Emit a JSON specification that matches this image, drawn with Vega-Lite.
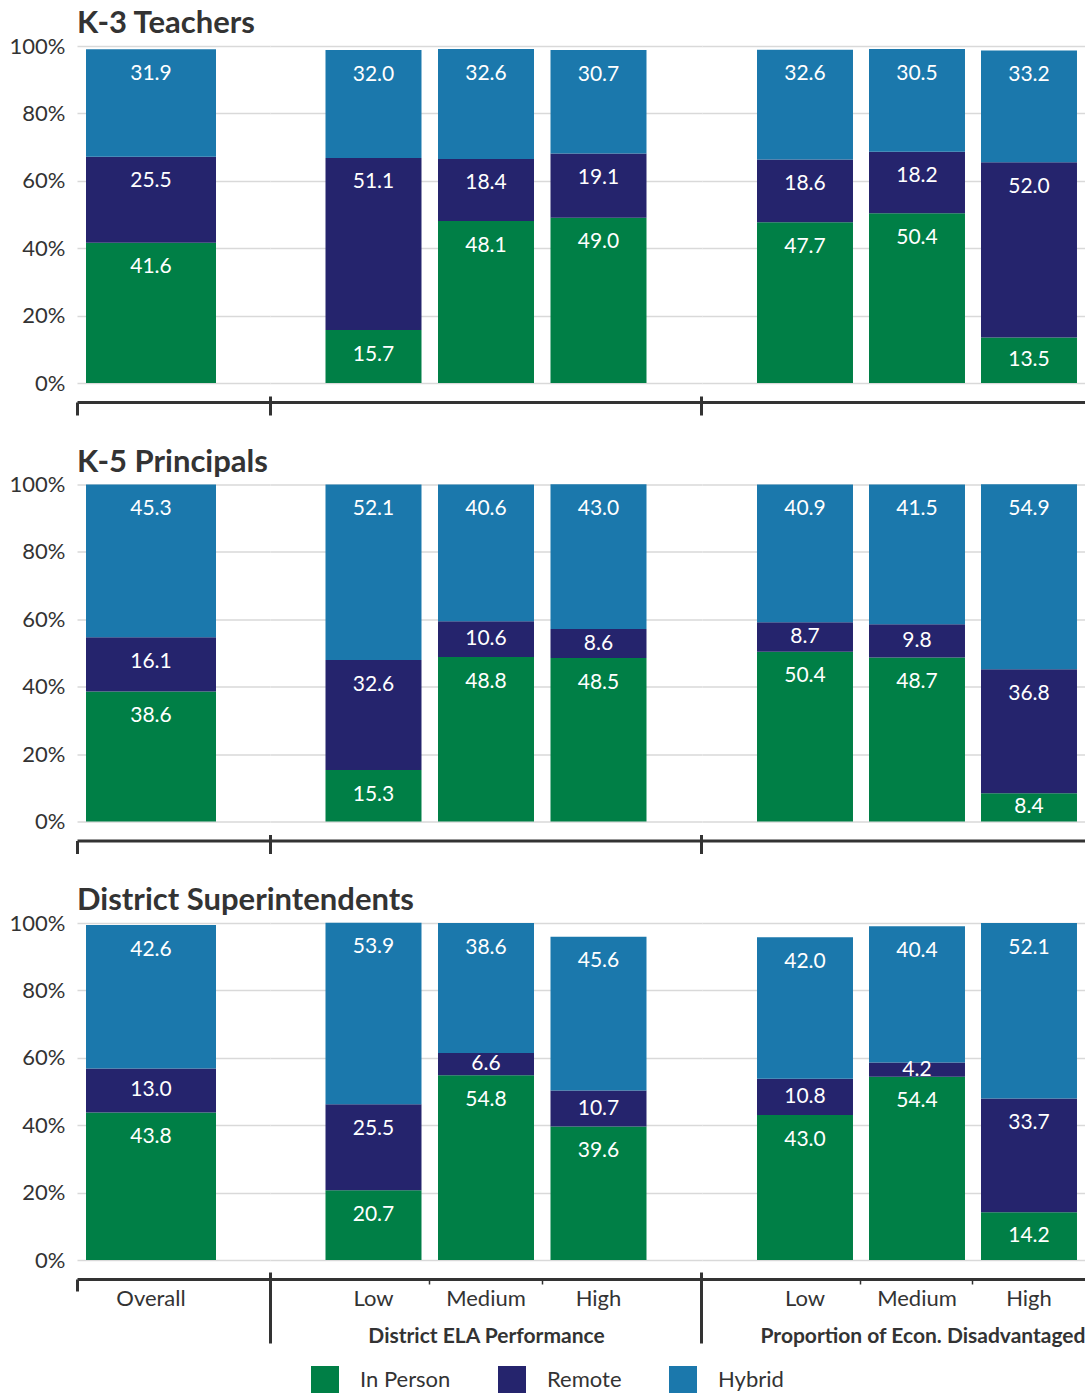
{
  "$schema": "https://vega.github.io/schema/vega-lite/v6.json",
  "padding": {"left": 9, "top": 8, "right": 0, "bottom": 0},
  "datasets": {
    "survey": [
      {"role": "K-3 Teachers", "group": "Overall", "cat": "Overall", "mode": "In Person", "pct": 41.6},
      {"role": "K-3 Teachers", "group": "Overall", "cat": "Overall", "mode": "Remote", "pct": 25.5},
      {"role": "K-3 Teachers", "group": "Overall", "cat": "Overall", "mode": "Hybrid", "pct": 31.9},
      {"role": "K-3 Teachers", "group": "ELA", "cat": "Low", "mode": "In Person", "pct": 15.7},
      {"role": "K-3 Teachers", "group": "ELA", "cat": "Low", "mode": "Remote", "pct": 51.1},
      {"role": "K-3 Teachers", "group": "ELA", "cat": "Low", "mode": "Hybrid", "pct": 32.0},
      {"role": "K-3 Teachers", "group": "ELA", "cat": "Medium", "mode": "In Person", "pct": 48.1},
      {"role": "K-3 Teachers", "group": "ELA", "cat": "Medium", "mode": "Remote", "pct": 18.4},
      {"role": "K-3 Teachers", "group": "ELA", "cat": "Medium", "mode": "Hybrid", "pct": 32.6},
      {"role": "K-3 Teachers", "group": "ELA", "cat": "High", "mode": "In Person", "pct": 49.0},
      {"role": "K-3 Teachers", "group": "ELA", "cat": "High", "mode": "Remote", "pct": 19.1},
      {"role": "K-3 Teachers", "group": "ELA", "cat": "High", "mode": "Hybrid", "pct": 30.7},
      {"role": "K-3 Teachers", "group": "Econ", "cat": "Low", "mode": "In Person", "pct": 47.7},
      {"role": "K-3 Teachers", "group": "Econ", "cat": "Low", "mode": "Remote", "pct": 18.6},
      {"role": "K-3 Teachers", "group": "Econ", "cat": "Low", "mode": "Hybrid", "pct": 32.6},
      {"role": "K-3 Teachers", "group": "Econ", "cat": "Medium", "mode": "In Person", "pct": 50.4},
      {"role": "K-3 Teachers", "group": "Econ", "cat": "Medium", "mode": "Remote", "pct": 18.2},
      {"role": "K-3 Teachers", "group": "Econ", "cat": "Medium", "mode": "Hybrid", "pct": 30.5},
      {"role": "K-3 Teachers", "group": "Econ", "cat": "High", "mode": "In Person", "pct": 13.5},
      {"role": "K-3 Teachers", "group": "Econ", "cat": "High", "mode": "Remote", "pct": 52.0},
      {"role": "K-3 Teachers", "group": "Econ", "cat": "High", "mode": "Hybrid", "pct": 33.2},

      {"role": "K-5 Principals", "group": "Overall", "cat": "Overall", "mode": "In Person", "pct": 38.6},
      {"role": "K-5 Principals", "group": "Overall", "cat": "Overall", "mode": "Remote", "pct": 16.1},
      {"role": "K-5 Principals", "group": "Overall", "cat": "Overall", "mode": "Hybrid", "pct": 45.3},
      {"role": "K-5 Principals", "group": "ELA", "cat": "Low", "mode": "In Person", "pct": 15.3},
      {"role": "K-5 Principals", "group": "ELA", "cat": "Low", "mode": "Remote", "pct": 32.6},
      {"role": "K-5 Principals", "group": "ELA", "cat": "Low", "mode": "Hybrid", "pct": 52.1},
      {"role": "K-5 Principals", "group": "ELA", "cat": "Medium", "mode": "In Person", "pct": 48.8},
      {"role": "K-5 Principals", "group": "ELA", "cat": "Medium", "mode": "Remote", "pct": 10.6},
      {"role": "K-5 Principals", "group": "ELA", "cat": "Medium", "mode": "Hybrid", "pct": 40.6},
      {"role": "K-5 Principals", "group": "ELA", "cat": "High", "mode": "In Person", "pct": 48.5},
      {"role": "K-5 Principals", "group": "ELA", "cat": "High", "mode": "Remote", "pct": 8.6},
      {"role": "K-5 Principals", "group": "ELA", "cat": "High", "mode": "Hybrid", "pct": 43.0},
      {"role": "K-5 Principals", "group": "Econ", "cat": "Low", "mode": "In Person", "pct": 50.4},
      {"role": "K-5 Principals", "group": "Econ", "cat": "Low", "mode": "Remote", "pct": 8.7},
      {"role": "K-5 Principals", "group": "Econ", "cat": "Low", "mode": "Hybrid", "pct": 40.9},
      {"role": "K-5 Principals", "group": "Econ", "cat": "Medium", "mode": "In Person", "pct": 48.7},
      {"role": "K-5 Principals", "group": "Econ", "cat": "Medium", "mode": "Remote", "pct": 9.8},
      {"role": "K-5 Principals", "group": "Econ", "cat": "Medium", "mode": "Hybrid", "pct": 41.5},
      {"role": "K-5 Principals", "group": "Econ", "cat": "High", "mode": "In Person", "pct": 8.4},
      {"role": "K-5 Principals", "group": "Econ", "cat": "High", "mode": "Remote", "pct": 36.8},
      {"role": "K-5 Principals", "group": "Econ", "cat": "High", "mode": "Hybrid", "pct": 54.9},

      {"role": "District Superintendents", "group": "Overall", "cat": "Overall", "mode": "In Person", "pct": 43.8},
      {"role": "District Superintendents", "group": "Overall", "cat": "Overall", "mode": "Remote", "pct": 13.0},
      {"role": "District Superintendents", "group": "Overall", "cat": "Overall", "mode": "Hybrid", "pct": 42.6},
      {"role": "District Superintendents", "group": "ELA", "cat": "Low", "mode": "In Person", "pct": 20.7},
      {"role": "District Superintendents", "group": "ELA", "cat": "Low", "mode": "Remote", "pct": 25.5},
      {"role": "District Superintendents", "group": "ELA", "cat": "Low", "mode": "Hybrid", "pct": 53.9},
      {"role": "District Superintendents", "group": "ELA", "cat": "Medium", "mode": "In Person", "pct": 54.8},
      {"role": "District Superintendents", "group": "ELA", "cat": "Medium", "mode": "Remote", "pct": 6.6},
      {"role": "District Superintendents", "group": "ELA", "cat": "Medium", "mode": "Hybrid", "pct": 38.6},
      {"role": "District Superintendents", "group": "ELA", "cat": "High", "mode": "In Person", "pct": 39.6},
      {"role": "District Superintendents", "group": "ELA", "cat": "High", "mode": "Remote", "pct": 10.7},
      {"role": "District Superintendents", "group": "ELA", "cat": "High", "mode": "Hybrid", "pct": 45.6},
      {"role": "District Superintendents", "group": "Econ", "cat": "Low", "mode": "In Person", "pct": 43.0},
      {"role": "District Superintendents", "group": "Econ", "cat": "Low", "mode": "Remote", "pct": 10.8},
      {"role": "District Superintendents", "group": "Econ", "cat": "Low", "mode": "Hybrid", "pct": 42.0},
      {"role": "District Superintendents", "group": "Econ", "cat": "Medium", "mode": "In Person", "pct": 54.4},
      {"role": "District Superintendents", "group": "Econ", "cat": "Medium", "mode": "Remote", "pct": 4.2},
      {"role": "District Superintendents", "group": "Econ", "cat": "Medium", "mode": "Hybrid", "pct": 40.4},
      {"role": "District Superintendents", "group": "Econ", "cat": "High", "mode": "In Person", "pct": 14.2},
      {"role": "District Superintendents", "group": "Econ", "cat": "High", "mode": "Remote", "pct": 33.7},
      {"role": "District Superintendents", "group": "Econ", "cat": "High", "mode": "Hybrid", "pct": 52.1}
    ]
  },
  "columns": 3,
  "spacing": {"row": 101.5, "column": 0},
  "bounds": "flush",
  "concat": [
    {
      "width": 193, "height": 337,
      "title": {"text": "K-3 Teachers", "anchor": "start", "frame": "group", "fontSize": 31, "fontWeight": "bold", "color": "#333333", "offset": -5},
      "data": {"name": "survey"},
      "transform": [
        {"filter": "datum.role === 'K-3 Teachers' && datum.group === 'Overall'"},
        {"calculate": "indexof(['In Person','Remote','Hybrid'], datum.mode)", "as": "ord"},
        {"stack": "pct", "groupby": ["cat"], "sort": [{"field": "ord", "order": "ascending"}], "as": ["v0", "v1"]},
        {"calculate": "max((datum.v0 + datum.v1) / 2, datum.v1 - 7.3)", "as": "labelY"}
      ],
      "layer": [
        {"mark": {"type": "bar", "width": {"band": 1}},
         "encoding": {
           "x": {"field": "cat", "type": "nominal", "scale": {"domain": ["Overall"], "paddingInner": 0, "paddingOuter": 0.2423, "align": 0.1429},
                 "axis": {"orient": "bottom", "offset": 19, "values": ["Overall"], "bandPosition": -0.0692, "tickSize": 13, "tickWidth": 3, "tickColor": "#333333", "domainWidth": 3, "domainColor": "#333333", "labels": false, "title": null}},
           "y": {"field": "v1", "type": "quantitative", "stack": null, "scale": {"domain": [0, 100], "nice": false},
                 "axis": {"values": [0, 20, 40, 60, 80, 100], "labelExpr": "datum.value + '%'", "grid": true, "domain": false, "ticks": false, "labelPadding": 12, "labelFontSize": 22, "labelColor": "#333333", "title": null}},
           "y2": {"field": "v0"},
           "color": {"field": "mode", "type": "nominal", "scale": {"domain": ["In Person", "Remote", "Hybrid"], "range": ["#007F46", "#25246D", "#1B78AC"]}, "legend": {"title": null}}
         }},
        {"mark": {"type": "text", "color": "white", "fontSize": 21, "baseline": "middle"},
         "encoding": {
           "x": {"field": "cat", "type": "nominal", "scale": {"domain": ["Overall"], "paddingInner": 0, "paddingOuter": 0.2423, "align": 0.1429}, "axis": null},
           "y": {"field": "labelY", "type": "quantitative", "stack": null, "scale": {"domain": [0, 100], "nice": false}, "axis": null},
           "text": {"field": "pct", "type": "quantitative", "format": ".1f"}
         }}
      ],
      "resolve": {"axis": {"x": "independent", "y": "independent"}}
    },
    {
      "width": 432, "height": 337,
      "data": {"name": "survey"},
      "transform": [
        {"filter": "datum.role === 'K-3 Teachers' && datum.group === 'ELA'"},
        {"calculate": "indexof(['In Person','Remote','Hybrid'], datum.mode)", "as": "ord"},
        {"stack": "pct", "groupby": ["cat"], "sort": [{"field": "ord", "order": "ascending"}], "as": ["v0", "v1"]},
        {"calculate": "max((datum.v0 + datum.v1) / 2, datum.v1 - 7.3)", "as": "labelY"}
      ],
      "layer": [
        {"mark": {"type": "bar", "width": {"band": 0.8533}},
         "encoding": {
           "x": {"field": "cat", "type": "nominal", "scale": {"domain": ["Low", "Medium", "High"], "paddingInner": 0, "paddingOuter": 0.42, "align": 0.5},
                 "axis": {"orient": "bottom", "offset": 19, "ticks": false, "labels": false, "domainWidth": 3, "domainColor": "#333333", "title": null}},
           "y": {"field": "v1", "type": "quantitative", "stack": null, "scale": {"domain": [0, 100], "nice": false},
                 "axis": {"values": [0, 20, 40, 60, 80, 100], "grid": true, "labels": false, "domain": false, "ticks": false, "title": null}},
           "y2": {"field": "v0"},
           "color": {"field": "mode", "type": "nominal", "scale": {"domain": ["In Person", "Remote", "Hybrid"], "range": ["#007F46", "#25246D", "#1B78AC"]}, "legend": {"title": null}}
         }},
        {"mark": {"type": "text", "color": "white", "fontSize": 21, "baseline": "middle"},
         "encoding": {
           "x": {"field": "cat", "type": "nominal", "scale": {"domain": ["Low", "Medium", "High"], "paddingInner": 0, "paddingOuter": 0.42, "align": 0.5},
                 "axis": {"orient": "bottom", "offset": 13, "values": ["Low"], "bandPosition": -0.42, "tickSize": 19, "tickWidth": 3, "tickColor": "#333333", "domain": false, "labels": false, "title": null}},
           "y": {"field": "labelY", "type": "quantitative", "stack": null, "scale": {"domain": [0, 100], "nice": false}, "axis": null},
           "text": {"field": "pct", "type": "quantitative", "format": ".1f"}
         }}
      ],
      "resolve": {"axis": {"x": "independent", "y": "independent"}}
    },
    {
      "width": 383, "height": 337,
      "data": {"name": "survey"},
      "transform": [
        {"filter": "datum.role === 'K-3 Teachers' && datum.group === 'Econ'"},
        {"calculate": "indexof(['In Person','Remote','Hybrid'], datum.mode)", "as": "ord"},
        {"stack": "pct", "groupby": ["cat"], "sort": [{"field": "ord", "order": "ascending"}], "as": ["v0", "v1"]},
        {"calculate": "max((datum.v0 + datum.v1) / 2, datum.v1 - 7.3)", "as": "labelY"}
      ],
      "layer": [
        {"mark": {"type": "bar", "width": {"band": 0.857}},
         "encoding": {
           "x": {"field": "cat", "type": "nominal", "scale": {"domain": ["Low", "Medium", "High"], "paddingInner": 0, "paddingOuter": 0.2098, "align": 1},
                 "axis": {"orient": "bottom", "offset": 19, "ticks": false, "labels": false, "domainWidth": 3, "domainColor": "#333333", "title": null}},
           "y": {"field": "v1", "type": "quantitative", "stack": null, "scale": {"domain": [0, 100], "nice": false},
                 "axis": {"values": [0, 20, 40, 60, 80, 100], "grid": true, "labels": false, "domain": false, "ticks": false, "title": null}},
           "y2": {"field": "v0"},
           "color": {"field": "mode", "type": "nominal", "scale": {"domain": ["In Person", "Remote", "Hybrid"], "range": ["#007F46", "#25246D", "#1B78AC"]}, "legend": {"title": null}}
         }},
        {"mark": {"type": "text", "color": "white", "fontSize": 21, "baseline": "middle"},
         "encoding": {
           "x": {"field": "cat", "type": "nominal", "scale": {"domain": ["Low", "Medium", "High"], "paddingInner": 0, "paddingOuter": 0.2098, "align": 1},
                 "axis": {"orient": "bottom", "offset": 13, "values": ["Low"], "bandPosition": -0.4196, "tickSize": 19, "tickWidth": 3, "tickColor": "#333333", "domain": false, "labels": false, "title": null}},
           "y": {"field": "labelY", "type": "quantitative", "stack": null, "scale": {"domain": [0, 100], "nice": false}, "axis": null},
           "text": {"field": "pct", "type": "quantitative", "format": ".1f"}
         }}
      ],
      "resolve": {"axis": {"x": "independent", "y": "independent"}}
    },
    {
      "width": 193, "height": 337,
      "title": {"text": "K-5 Principals", "anchor": "start", "frame": "group", "fontSize": 31, "fontWeight": "bold", "color": "#333333", "offset": -5},
      "data": {"name": "survey"},
      "transform": [
        {"filter": "datum.role === 'K-5 Principals' && datum.group === 'Overall'"},
        {"calculate": "indexof(['In Person','Remote','Hybrid'], datum.mode)", "as": "ord"},
        {"stack": "pct", "groupby": ["cat"], "sort": [{"field": "ord", "order": "ascending"}], "as": ["v0", "v1"]},
        {"calculate": "max((datum.v0 + datum.v1) / 2, datum.v1 - 7.3)", "as": "labelY"}
      ],
      "layer": [
        {"mark": {"type": "bar", "width": {"band": 1}},
         "encoding": {
           "x": {"field": "cat", "type": "nominal", "scale": {"domain": ["Overall"], "paddingInner": 0, "paddingOuter": 0.2423, "align": 0.1429},
                 "axis": {"orient": "bottom", "offset": 19, "values": ["Overall"], "bandPosition": -0.0692, "tickSize": 13, "tickWidth": 3, "tickColor": "#333333", "domainWidth": 3, "domainColor": "#333333", "labels": false, "title": null}},
           "y": {"field": "v1", "type": "quantitative", "stack": null, "scale": {"domain": [0, 100], "nice": false},
                 "axis": {"values": [0, 20, 40, 60, 80, 100], "labelExpr": "datum.value + '%'", "grid": true, "domain": false, "ticks": false, "labelPadding": 12, "labelFontSize": 22, "labelColor": "#333333", "title": null}},
           "y2": {"field": "v0"},
           "color": {"field": "mode", "type": "nominal", "scale": {"domain": ["In Person", "Remote", "Hybrid"], "range": ["#007F46", "#25246D", "#1B78AC"]}, "legend": {"title": null}}
         }},
        {"mark": {"type": "text", "color": "white", "fontSize": 21, "baseline": "middle"},
         "encoding": {
           "x": {"field": "cat", "type": "nominal", "scale": {"domain": ["Overall"], "paddingInner": 0, "paddingOuter": 0.2423, "align": 0.1429}, "axis": null},
           "y": {"field": "labelY", "type": "quantitative", "stack": null, "scale": {"domain": [0, 100], "nice": false}, "axis": null},
           "text": {"field": "pct", "type": "quantitative", "format": ".1f"}
         }}
      ],
      "resolve": {"axis": {"x": "independent", "y": "independent"}}
    },
    {
      "width": 432, "height": 337,
      "data": {"name": "survey"},
      "transform": [
        {"filter": "datum.role === 'K-5 Principals' && datum.group === 'ELA'"},
        {"calculate": "indexof(['In Person','Remote','Hybrid'], datum.mode)", "as": "ord"},
        {"stack": "pct", "groupby": ["cat"], "sort": [{"field": "ord", "order": "ascending"}], "as": ["v0", "v1"]},
        {"calculate": "max((datum.v0 + datum.v1) / 2, datum.v1 - 7.3)", "as": "labelY"}
      ],
      "layer": [
        {"mark": {"type": "bar", "width": {"band": 0.8533}},
         "encoding": {
           "x": {"field": "cat", "type": "nominal", "scale": {"domain": ["Low", "Medium", "High"], "paddingInner": 0, "paddingOuter": 0.42, "align": 0.5},
                 "axis": {"orient": "bottom", "offset": 19, "ticks": false, "labels": false, "domainWidth": 3, "domainColor": "#333333", "title": null}},
           "y": {"field": "v1", "type": "quantitative", "stack": null, "scale": {"domain": [0, 100], "nice": false},
                 "axis": {"values": [0, 20, 40, 60, 80, 100], "grid": true, "labels": false, "domain": false, "ticks": false, "title": null}},
           "y2": {"field": "v0"},
           "color": {"field": "mode", "type": "nominal", "scale": {"domain": ["In Person", "Remote", "Hybrid"], "range": ["#007F46", "#25246D", "#1B78AC"]}, "legend": {"title": null}}
         }},
        {"mark": {"type": "text", "color": "white", "fontSize": 21, "baseline": "middle"},
         "encoding": {
           "x": {"field": "cat", "type": "nominal", "scale": {"domain": ["Low", "Medium", "High"], "paddingInner": 0, "paddingOuter": 0.42, "align": 0.5},
                 "axis": {"orient": "bottom", "offset": 13, "values": ["Low"], "bandPosition": -0.42, "tickSize": 19, "tickWidth": 3, "tickColor": "#333333", "domain": false, "labels": false, "title": null}},
           "y": {"field": "labelY", "type": "quantitative", "stack": null, "scale": {"domain": [0, 100], "nice": false}, "axis": null},
           "text": {"field": "pct", "type": "quantitative", "format": ".1f"}
         }}
      ],
      "resolve": {"axis": {"x": "independent", "y": "independent"}}
    },
    {
      "width": 383, "height": 337,
      "data": {"name": "survey"},
      "transform": [
        {"filter": "datum.role === 'K-5 Principals' && datum.group === 'Econ'"},
        {"calculate": "indexof(['In Person','Remote','Hybrid'], datum.mode)", "as": "ord"},
        {"stack": "pct", "groupby": ["cat"], "sort": [{"field": "ord", "order": "ascending"}], "as": ["v0", "v1"]},
        {"calculate": "max((datum.v0 + datum.v1) / 2, datum.v1 - 7.3)", "as": "labelY"}
      ],
      "layer": [
        {"mark": {"type": "bar", "width": {"band": 0.857}},
         "encoding": {
           "x": {"field": "cat", "type": "nominal", "scale": {"domain": ["Low", "Medium", "High"], "paddingInner": 0, "paddingOuter": 0.2098, "align": 1},
                 "axis": {"orient": "bottom", "offset": 19, "ticks": false, "labels": false, "domainWidth": 3, "domainColor": "#333333", "title": null}},
           "y": {"field": "v1", "type": "quantitative", "stack": null, "scale": {"domain": [0, 100], "nice": false},
                 "axis": {"values": [0, 20, 40, 60, 80, 100], "grid": true, "labels": false, "domain": false, "ticks": false, "title": null}},
           "y2": {"field": "v0"},
           "color": {"field": "mode", "type": "nominal", "scale": {"domain": ["In Person", "Remote", "Hybrid"], "range": ["#007F46", "#25246D", "#1B78AC"]}, "legend": {"title": null}}
         }},
        {"mark": {"type": "text", "color": "white", "fontSize": 21, "baseline": "middle"},
         "encoding": {
           "x": {"field": "cat", "type": "nominal", "scale": {"domain": ["Low", "Medium", "High"], "paddingInner": 0, "paddingOuter": 0.2098, "align": 1},
                 "axis": {"orient": "bottom", "offset": 13, "values": ["Low"], "bandPosition": -0.4196, "tickSize": 19, "tickWidth": 3, "tickColor": "#333333", "domain": false, "labels": false, "title": null}},
           "y": {"field": "labelY", "type": "quantitative", "stack": null, "scale": {"domain": [0, 100], "nice": false}, "axis": null},
           "text": {"field": "pct", "type": "quantitative", "format": ".1f"}
         }}
      ],
      "resolve": {"axis": {"x": "independent", "y": "independent"}}
    },
    {
      "width": 193, "height": 337,
      "title": {"text": "District Superintendents", "anchor": "start", "frame": "group", "fontSize": 31, "fontWeight": "bold", "color": "#333333", "offset": -5},
      "data": {"name": "survey"},
      "transform": [
        {"filter": "datum.role === 'District Superintendents' && datum.group === 'Overall'"},
        {"calculate": "indexof(['In Person','Remote','Hybrid'], datum.mode)", "as": "ord"},
        {"stack": "pct", "groupby": ["cat"], "sort": [{"field": "ord", "order": "ascending"}], "as": ["v0", "v1"]},
        {"calculate": "max((datum.v0 + datum.v1) / 2, datum.v1 - 7.3)", "as": "labelY"}
      ],
      "layer": [
        {"mark": {"type": "bar", "width": {"band": 1}},
         "encoding": {
           "x": {"field": "cat", "type": "nominal", "scale": {"domain": ["Overall"], "paddingInner": 0, "paddingOuter": 0.2423, "align": 0.1429},
                 "axis": {"orient": "bottom", "offset": 19, "values": ["Overall"], "bandPosition": -0.0692, "tickSize": 12, "tickWidth": 3, "tickColor": "#333333", "domainWidth": 3, "domainColor": "#333333", "labels": true, "labelAngle": 0, "labelFontSize": 22, "labelColor": "#333333", "labelPadding": -3, "title": null}},
           "y": {"field": "v1", "type": "quantitative", "stack": null, "scale": {"domain": [0, 100], "nice": false},
                 "axis": {"values": [0, 20, 40, 60, 80, 100], "labelExpr": "datum.value + '%'", "grid": true, "domain": false, "ticks": false, "labelPadding": 12, "labelFontSize": 22, "labelColor": "#333333", "title": null}},
           "y2": {"field": "v0"},
           "color": {"field": "mode", "type": "nominal", "scale": {"domain": ["In Person", "Remote", "Hybrid"], "range": ["#007F46", "#25246D", "#1B78AC"]}, "legend": {"title": null}}
         }},
        {"mark": {"type": "text", "color": "white", "fontSize": 21, "baseline": "middle"},
         "encoding": {
           "x": {"field": "cat", "type": "nominal", "scale": {"domain": ["Overall"], "paddingInner": 0, "paddingOuter": 0.2423, "align": 0.1429}, "axis": null},
           "y": {"field": "labelY", "type": "quantitative", "stack": null, "scale": {"domain": [0, 100], "nice": false}, "axis": null},
           "text": {"field": "pct", "type": "quantitative", "format": ".1f"}
         }}
      ],
      "resolve": {"axis": {"x": "independent", "y": "independent"}}
    },
    {
      "width": 432, "height": 337,
      "data": {"name": "survey"},
      "transform": [
        {"filter": "datum.role === 'District Superintendents' && datum.group === 'ELA'"},
        {"calculate": "indexof(['In Person','Remote','Hybrid'], datum.mode)", "as": "ord"},
        {"stack": "pct", "groupby": ["cat"], "sort": [{"field": "ord", "order": "ascending"}], "as": ["v0", "v1"]},
        {"calculate": "max((datum.v0 + datum.v1) / 2, datum.v1 - 7.3)", "as": "labelY"}
      ],
      "layer": [
        {"mark": {"type": "bar", "width": {"band": 0.8533}},
         "encoding": {
           "x": {"field": "cat", "type": "nominal", "scale": {"domain": ["Low", "Medium", "High"], "paddingInner": 0, "paddingOuter": 0.42, "align": 0.5},
                 "axis": {"orient": "bottom", "offset": 19, "values": ["Low", "Medium", "High"], "bandPosition": 1, "tickSize": 5, "tickWidth": 1.5, "tickColor": "#333333",
                          "tickOpacity": {"condition": {"test": "datum.value === 'High'", "value": 0}, "value": 1},
                          "domainWidth": 3, "domainColor": "#333333", "labelAngle": 0, "labelFontSize": 22, "labelColor": "#333333", "labelPadding": 4,
                          "title": "District ELA Performance", "titleFont": "Lato", "titleFontSize": 21, "titleFontWeight": "bold", "titleColor": "#333333", "titlePadding": 16}},
           "y": {"field": "v1", "type": "quantitative", "stack": null, "scale": {"domain": [0, 100], "nice": false},
                 "axis": {"values": [0, 20, 40, 60, 80, 100], "grid": true, "labels": false, "domain": false, "ticks": false, "title": null}},
           "y2": {"field": "v0"},
           "color": {"field": "mode", "type": "nominal", "scale": {"domain": ["In Person", "Remote", "Hybrid"], "range": ["#007F46", "#25246D", "#1B78AC"]}, "legend": {"title": null}}
         }},
        {"mark": {"type": "text", "color": "white", "fontSize": 21, "baseline": "middle"},
         "encoding": {
           "x": {"field": "cat", "type": "nominal", "scale": {"domain": ["Low", "Medium", "High"], "paddingInner": 0, "paddingOuter": 0.42, "align": 0.5},
                 "axis": {"orient": "bottom", "offset": 12, "values": ["Low"], "bandPosition": -0.42, "tickSize": 71, "tickWidth": 3, "tickColor": "#333333", "domain": false, "labels": false, "title": null}},
           "y": {"field": "labelY", "type": "quantitative", "stack": null, "scale": {"domain": [0, 100], "nice": false}, "axis": null},
           "text": {"field": "pct", "type": "quantitative", "format": ".1f"}
         }}
      ],
      "resolve": {"axis": {"x": "independent", "y": "independent"}}
    },
    {
      "width": 383, "height": 337,
      "data": {"name": "survey"},
      "transform": [
        {"filter": "datum.role === 'District Superintendents' && datum.group === 'Econ'"},
        {"calculate": "indexof(['In Person','Remote','Hybrid'], datum.mode)", "as": "ord"},
        {"stack": "pct", "groupby": ["cat"], "sort": [{"field": "ord", "order": "ascending"}], "as": ["v0", "v1"]},
        {"calculate": "max((datum.v0 + datum.v1) / 2, datum.v1 - 7.3)", "as": "labelY"}
      ],
      "layer": [
        {"mark": {"type": "bar", "width": {"band": 0.857}},
         "encoding": {
           "x": {"field": "cat", "type": "nominal", "scale": {"domain": ["Low", "Medium", "High"], "paddingInner": 0, "paddingOuter": 0.2098, "align": 1},
                 "axis": {"orient": "bottom", "offset": 19, "values": ["Low", "Medium", "High"], "bandPosition": 1, "tickSize": 5, "tickWidth": 1.5, "tickColor": "#333333",
                          "tickOpacity": {"condition": {"test": "datum.value === 'High'", "value": 0}, "value": 1},
                          "domainWidth": 3, "domainColor": "#333333", "labelAngle": 0, "labelFontSize": 22, "labelColor": "#333333", "labelPadding": 4,
                          "title": "Proportion of Econ. Disadvantaged", "titleFont": "Lato", "titleFontSize": 21, "titleFontWeight": "bold", "titleColor": "#333333", "titlePadding": 16, "titleAnchor": "end"}},
           "y": {"field": "v1", "type": "quantitative", "stack": null, "scale": {"domain": [0, 100], "nice": false},
                 "axis": {"values": [0, 20, 40, 60, 80, 100], "grid": true, "labels": false, "domain": false, "ticks": false, "title": null}},
           "y2": {"field": "v0"},
           "color": {"field": "mode", "type": "nominal", "scale": {"domain": ["In Person", "Remote", "Hybrid"], "range": ["#007F46", "#25246D", "#1B78AC"]}, "legend": {"title": null}}
         }},
        {"mark": {"type": "text", "color": "white", "fontSize": 21, "baseline": "middle"},
         "encoding": {
           "x": {"field": "cat", "type": "nominal", "scale": {"domain": ["Low", "Medium", "High"], "paddingInner": 0, "paddingOuter": 0.2098, "align": 1},
                 "axis": {"orient": "bottom", "offset": 12, "values": ["Low"], "bandPosition": -0.4196, "tickSize": 71, "tickWidth": 3, "tickColor": "#333333", "domain": false, "labels": false, "title": null}},
           "y": {"field": "labelY", "type": "quantitative", "stack": null, "scale": {"domain": [0, 100], "nice": false}, "axis": null},
           "text": {"field": "pct", "type": "quantitative", "format": ".1f"}
         }}
      ],
      "resolve": {"axis": {"x": "independent", "y": "independent"}}
    }
  ],
  "config": {
    "font": "Lato",
    "view": {"stroke": null},
    "axis": {"gridColor": "#d9d9d9", "gridWidth": 1.5, "labelFont": "Lato"},
    "legend": {"orient": "bottom", "direction": "horizontal", "symbolType": "square", "symbolSize": 784, "symbolStrokeWidth": 0, "labelFontSize": 22, "labelColor": "#333333", "labelOffset": 21, "columnPadding": 47, "offset": 20, "layout": {"bottom": {"anchor": "middle"}}}
  }
}
